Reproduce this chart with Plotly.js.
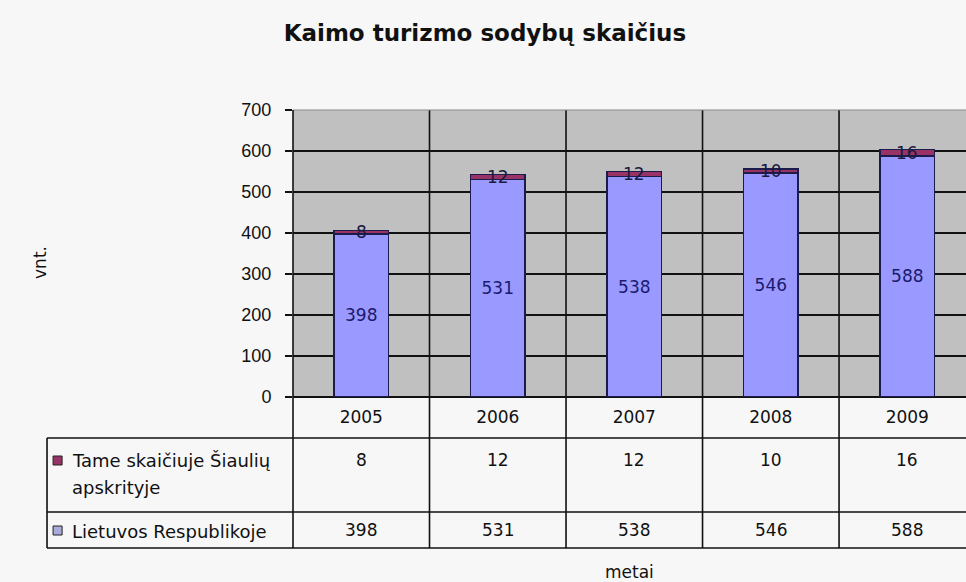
<!DOCTYPE html>
<html>
<head>
<meta charset="utf-8">
<script src="https://cdn.plot.ly/plotly-3.0.1.min.js"></script>
<style>html,body{margin:0;padding:0;background:#f7f7f7;}</style>
</head>
<body>
<div id="chart" style="width:966px;height:582px;"></div>
<script>
const years = ['2005', '2006', '2007', '2008', '2009'];
const lietuvos = [398, 531, 538, 546, 588];
const siauliu = [8, 12, 12, 10, 16];
const seriesNames = ['Tame skaičiuje Šiaulių', 'apskrityje', 'Lietuvos Respublikoje'];
const yTicks = [0, 100, 200, 300, 400, 500, 600, 700];

const FONT = 'DejaVu Sans, Verdana, sans-serif';
const FONT2 = 'Liberation Sans, Arial, sans-serif';
const BLUE = '#9999ff', RED = '#993366', EDGE = '#1c1c4c';

const xr = [-0.5, 4.43];
const xp = v => (v - xr[0]) / (xr[1] - xr[0]);
const py = px => (397 - px) / 287; // pixel row -> paper y (layout geometry only)
// table rows in paper y (below the plot)
const rowHeader = py(438), row1 = py(512), row2 = py(548);
const tableLeft = -0.3655; // paper x of left edge of table

const traces = [
  {type: 'bar', x: years, y: lietuvos, name: 'Lietuvos Respublikoje',
   marker: {color: BLUE, line: {color: EDGE, width: 1.5}},
   text: lietuvos.map(String), textposition: 'inside', insidetextanchor: 'middle',
   textfont: {family: FONT, size: 17, color: '#1a1a6e'}, hoverinfo: 'skip'},
  {type: 'bar', x: years, y: siauliu, name: 'Šiaulių',
   marker: {color: RED, line: {color: EDGE, width: 1.5}}, hoverinfo: 'skip'}
];

const shapes = [];
const annotations = [];
const line = (x0, y0, x1, y1, color, w) => shapes.push({type: 'line', xref: 'paper', yref: 'paper',
  x0, y0, x1, y1, line: {color: color || '#111', width: w || 1.6}, layer: 'above'});

line(0, 1, 1, 1, '#8a8a8a', 1.2);
for (let i = 0; i < years.length; i++) {
  const b = xp(i + 0.5);
  if (b < 1) shapes.push({type: 'line', xref: 'paper', yref: 'paper', x0: b, x1: b, y0: 1, y1: row2,
    line: {color: '#111', width: 1.6}, layer: 'below'});
}
line(0, 1, 0, row2);
line(0, rowHeader, 1, rowHeader);
line(tableLeft, rowHeader, 0, rowHeader);
line(tableLeft, row1, 1, row1);
line(tableLeft, row2, 1, row2);
line(tableLeft, rowHeader, tableLeft, row2);

// legend keys
const keyW = 0.0134;
shapes.push({type: 'rect', xref: 'paper', yref: 'paper', x0: tableLeft + 0.009, x1: tableLeft + 0.009 + keyW,
  y0: py(465), y1: py(456), fillcolor: RED, line: {color: '#222', width: 1}});
shapes.push({type: 'rect', xref: 'paper', yref: 'paper', x0: tableLeft + 0.009, x1: tableLeft + 0.009 + keyW,
  y0: py(535), y1: py(526), fillcolor: '#aaaadd', line: {color: '#222', width: 1}});

// row labels
const lblFont = {family: FONT, size: 18, color: '#111'};
annotations.push({xref: 'paper', yref: 'paper', x: tableLeft + 0.034, y: py(460), xanchor: 'left', yanchor: 'middle',
  text: seriesNames[0], showarrow: false, align: 'left', font: lblFont});
annotations.push({xref: 'paper', yref: 'paper', x: tableLeft + 0.034, y: py(487), xanchor: 'left', yanchor: 'middle',
  text: seriesNames[1], showarrow: false, align: 'left', font: lblFont});
annotations.push({xref: 'paper', yref: 'paper', x: tableLeft + 0.034, y: py(531), xanchor: 'left', yanchor: 'middle',
  text: seriesNames[2], showarrow: false, align: 'left', font: lblFont});

// table values
years.forEach((yr, i) => {
  annotations.push({xref: 'paper', yref: 'paper', x: xp(i), y: py(460), xanchor: 'center', yanchor: 'middle',
    text: String(siauliu[i]), showarrow: false, font: {family: FONT, size: 17, color: '#111'}});
  annotations.push({xref: 'paper', yref: 'paper', x: xp(i), y: py(530), xanchor: 'center', yanchor: 'middle',
    text: String(lietuvos[i]), showarrow: false, font: {family: FONT, size: 17, color: '#111'}});
  annotations.push({xref: 'x', yref: 'y', x: i, y: lietuvos[i] + siauliu[i] / 2, xanchor: 'center', yanchor: 'middle',
    text: String(siauliu[i]), showarrow: false, font: {family: FONT, size: 17, color: '#1a1a3e'}});
});

// axis titles
annotations.push({xref: 'paper', yref: 'paper', x: 0.5, y: py(572), xanchor: 'center', yanchor: 'middle',
  text: 'metai', showarrow: false, font: {family: FONT, size: 17, color: '#111'}});
annotations.push({xref: 'paper', yref: 'paper', x: -0.376, y: py(262), xanchor: 'center', yanchor: 'middle',
  text: 'vnt.', textangle: -90, showarrow: false, font: {family: FONT, size: 17, color: '#111'}});

const layout = {
  width: 966, height: 582,
  margin: {l: 293, r: 0, t: 110, b: 185},
  paper_bgcolor: '#f7f7f7', plot_bgcolor: '#c0c0c0',
  barmode: 'stack', bargap: 0.6, showlegend: false,
  title: {text: '<b>Kaimo turizmo sodybų skaičius</b>', xref: 'container', x: 0.502, xanchor: 'center',
    y: 0.943, yanchor: 'middle', font: {family: FONT, size: 23, color: '#111'}},
  xaxis: {type: 'category', range: xr, showgrid: false, zeroline: false, showline: false,
    ticks: '', ticklabelstandoff: 8, tickfont: {family: FONT, size: 17, color: '#111'}, fixedrange: true},
  yaxis: {range: [0, 700], tickvals: yTicks, ticktext: yTicks.map(String), showgrid: true, gridcolor: '#111', gridwidth: 1.6,
    zeroline: true, zerolinecolor: '#111', zerolinewidth: 1.6, ticks: 'outside', ticklen: 7, tickcolor: '#111', tickwidth: 1.6,
    ticklabelstandoff: 10, tickfont: {family: FONT2, size: 18, color: '#111'}, fixedrange: true},
  shapes, annotations
};

Plotly.newPlot('chart', traces, layout, {displayModeBar: false, staticPlot: true});
</script>
</body>
</html>
